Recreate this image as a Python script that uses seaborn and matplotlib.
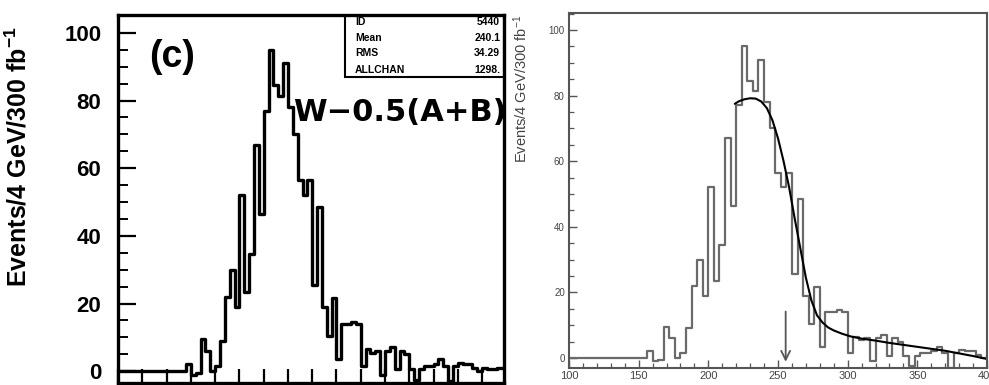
import numpy as np
import pandas as pd
import matplotlib
matplotlib.use("Agg")
import matplotlib.pyplot as plt
from matplotlib.patches import Rectangle
from matplotlib.ticker import MultipleLocator
import seaborn as sns

# bins of 4 GeV starting at 100 GeV
bin_width = 4
bin_start = 100
counts = [0] * 14 + [
    2, -1, -0.5, 9.5, 6, 0, 1.5, 9, 22, 30,
    19, 52, 23.5, 34.5, 67, 46.5, 77, 95, 84.5, 81.5,
    91, 78, 70, 56.5, 52, 56.5, 25.5, 48.5, 19, 10.5,
    21.5, 3.5, 14, 14, 14.5, 14, 1.5, 6.5, 5.5, 6,
    -1, 6, 7, 0.5, 6, 5, 0.5, -2.5, 0.5, 1.5,
    1.5, 2, 3.5, 1.5, -3, 1.5, 2.5, 2, 2, 1,
    0, 1, 0.5, 0.5, 1, 1,
]

# fitted curve
fit_x = [219, 222, 226, 230, 234, 238, 242, 246, 250, 254, 258, 262, 266,
         270, 274, 278, 282, 286, 290, 296, 302, 310, 320, 330, 340, 350,
         360, 370, 380, 390, 400]
fit_y = [77.5, 78.3, 78.9, 79.2, 79.1, 78.2, 76.2, 72.5, 67, 60, 52, 42.5,
         33.5, 24.5, 17.5, 13, 10.8, 9.3, 8.4, 7.4, 6.6, 5.9, 5.3, 4.6, 4.0,
         3.4, 2.8, 2.2, 1.4, 0.6, -0.3]

arrow_x = 255.5
arrow_top = 15
arrow_tip = -2

stats_names = ["ID", "Mean", "RMS", "ALLCHAN"]
stats_values = ["5440", "240.1", "34.29", "1298."]

ylabel = "Events/4 GeV/300 fb$^{-1}$"

bin_end = bin_start + bin_width * len(counts)
df = pd.DataFrame({
    "mass": bin_start + bin_width * np.arange(len(counts)) + bin_width / 2,
    "events": counts,
})
fit = pd.DataFrame({"mass": fit_x, "events": fit_y})

sns.set_style("ticks")
plt.rcParams["font.family"] = ["Liberation Sans", "DejaVu Sans"]
plt.rcParams["mathtext.default"] = "regular"
plt.rcParams["text.color"] = "black"
plt.rcParams["axes.labelcolor"] = "black"
plt.rcParams["xtick.color"] = "black"
plt.rcParams["ytick.color"] = "black"

fig = plt.figure(figsize=(9.89, 3.85), dpi=100)
ax1 = fig.add_axes([118 / 989, 2 / 385, 386 / 989, 368 / 385])
ax2 = fig.add_axes([569 / 989, 17 / 385, 418 / 989, 355 / 385])

# ---- left panel (c)
sns.histplot(data=df, x="mass", weights="events", binwidth=bin_width,
             binrange=(bin_start, bin_end), element="step", fill=False,
             color="black", linewidth=2.4, ax=ax1)
ax1.set_xlim(100, 418)
ax1.set_ylim(-3.5, 105.3)
ax1.xaxis.set_major_locator(MultipleLocator(20))
ax1.yaxis.set_major_locator(MultipleLocator(20))
ax1.yaxis.set_minor_locator(MultipleLocator(5))
ax1.tick_params(axis="x", direction="in", length=10, width=1.6, labelbottom=False)
ax1.tick_params(axis="y", which="major", direction="in", length=13, width=1.6,
                pad=12, labelsize=16, labelcolor="black")
ax1.tick_params(axis="y", which="minor", direction="in", length=7, width=1.4)
for lab in ax1.get_yticklabels():
    lab.set_fontweight("bold")
for sp in ax1.spines.values():
    sp.set_visible(True)
    sp.set_linewidth(2.4)
    sp.set_color("black")
ax1.set_xlabel("")
ax1.set_ylabel(ylabel, fontsize=18, fontweight="bold", color="black")
ax1.yaxis.set_label_coords(-0.225, 0.614)

ax1.add_patch(Rectangle((0.588, 0.8315), 0.412, 0.1685, transform=ax1.transAxes,
                        fill=False, lw=1.5, color="black", zorder=5))
row_y = [0.981, 0.9375, 0.8967, 0.8505]
for name, val, yy in zip(stats_names, stats_values, row_y):
    ax1.text(0.614, yy, name, transform=ax1.transAxes, fontsize=7.5,
             fontweight="bold", va="center", ha="left", color="black")
    ax1.text(0.99, yy, val, transform=ax1.transAxes, fontsize=7.5,
             fontweight="bold", va="center", ha="right", color="black")

ax1.text(0.14, 0.886, "(c)", transform=ax1.transAxes, fontsize=27,
         fontweight="bold", ha="center", va="center", color="black")
ax1.text(0.453, 0.712, "W\u22120.5(A+B)", transform=ax1.transAxes, fontsize=22,
         fontweight="bold", family="DejaVu Sans", ha="left", va="baseline",
         color="black")

# ---- right panel with fit
grey = "#6a6a6a"
sns.histplot(data=df, x="mass", weights="events", binwidth=bin_width,
             binrange=(bin_start, bin_end), element="step", fill=False,
             color=grey, linewidth=1.6, ax=ax2)
sns.lineplot(data=fit, x="mass", y="events", color="black", linewidth=1.5,
             estimator=None, ax=ax2)
ax2.annotate("", xy=(arrow_x, arrow_tip), xytext=(arrow_x, arrow_top),
             arrowprops=dict(arrowstyle="->", color="#555555", lw=1.3,
                             mutation_scale=16))
ax2.set_xlim(100, 400)
ax2.set_ylim(-3.05, 105.2)
ax2.xaxis.set_major_locator(MultipleLocator(50))
ax2.xaxis.set_minor_locator(MultipleLocator(10))
ax2.yaxis.set_major_locator(MultipleLocator(20))
ax2.yaxis.set_minor_locator(MultipleLocator(5))
ax2.tick_params(which="major", direction="in", length=6, width=1.0, color="#555555",
                labelcolor="#444444")
ax2.tick_params(which="minor", direction="in", length=3.5, width=0.9, color="#555555")
ax2.tick_params(axis="x", labelsize=8, pad=2.5)
ax2.tick_params(axis="y", labelsize=7, pad=3)
for sp in ax2.spines.values():
    sp.set_visible(True)
    sp.set_linewidth(1.5)
    sp.set_color("#555555")
ax2.set_xlabel("")
ax2.set_ylabel(ylabel, fontsize=10.5, color="#444444")
ax2.yaxis.set_label_coords(-0.093, 0.786)

fig.savefig("out.png", dpi=100)
